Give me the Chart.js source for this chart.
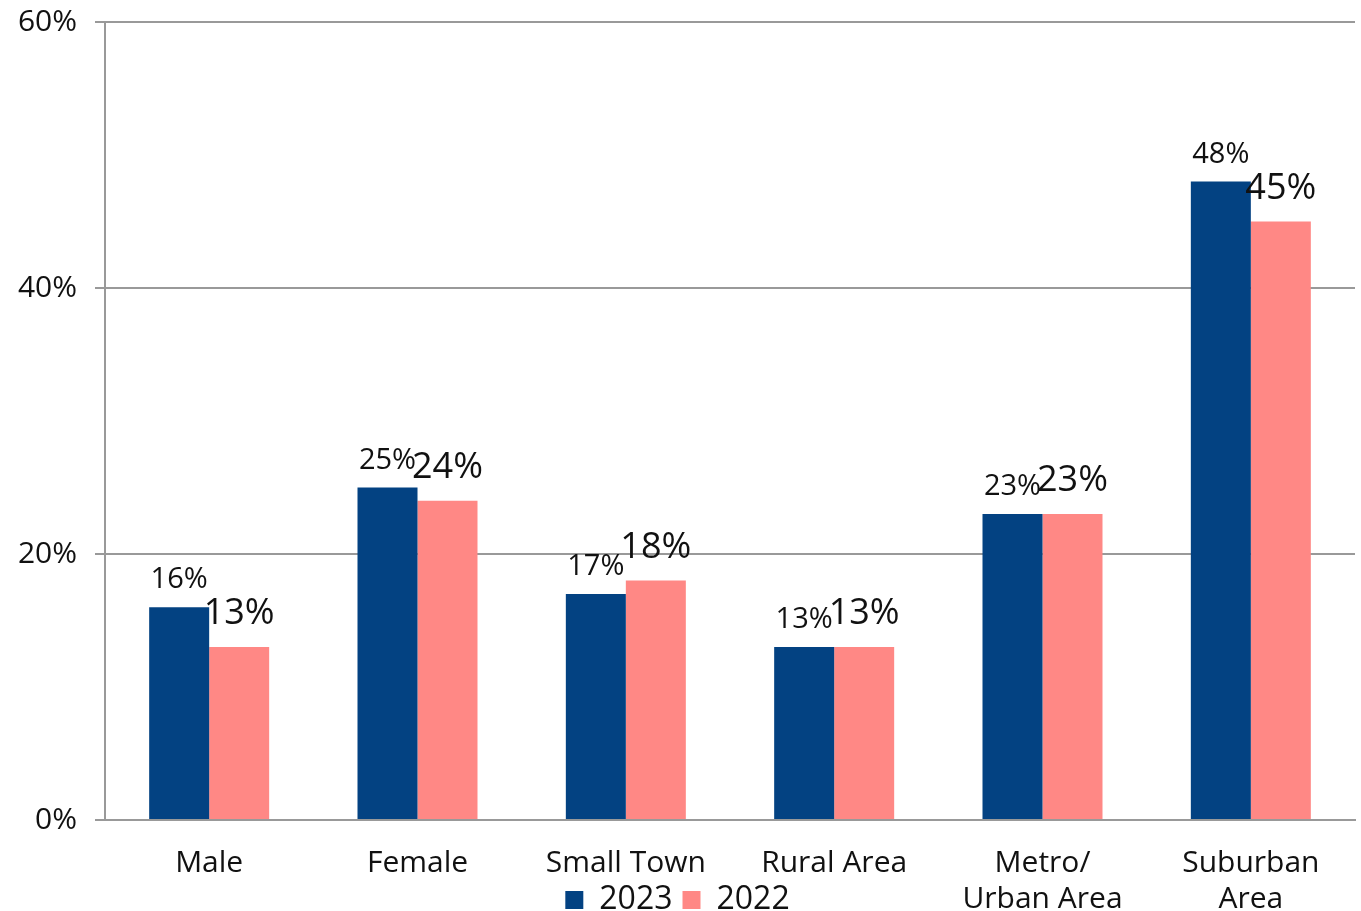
<!DOCTYPE html>
<html lang="en">
<head>
  <meta charset="UTF-8">
  <title>2023 vs 2022</title>
  <script src="https://cdn.jsdelivr.net/npm/chart.js"></script>
  <style>
    html, body { margin: 0; padding: 0; background: #fff; }
    #wrap { width: 1361px; height: 911px; }
  </style>
</head>
<body>
  <div id="wrap"><canvas id="barChart"></canvas></div>

  <script>
    const categories = ['Male', 'Female', 'Small Town', 'Rural Area', ['Metro/', 'Urban Area'], ['Suburban', 'Area']];
    const values2023 = [16, 25, 17, 13, 23, 48];
    const values2022 = [13, 24, 18, 13, 23, 45];
    const yTicks = [0, 20, 40, 60];

    const FONT = "'Open Sans', sans-serif";

    // value labels above each bar, 2022 ones drawn bigger like the original
    const barLabels = {
      id: 'barLabels',
      afterDatasetsDraw(chart) {
        const ctx = chart.ctx;
        ctx.save();
        ctx.fillStyle = '#111';
        ctx.textAlign = 'center';
        ctx.textBaseline = 'alphabetic';
        chart.data.datasets.forEach((ds, i) => {
          const meta = chart.getDatasetMeta(i);
          const size = i === 0 ? 29 : 36;
          const gap = i === 0 ? 19 : 23;
          ctx.font = size + 'px ' + FONT;
          meta.data.forEach((bar, j) => {
            ctx.fillText(ds.data[j] + '%', bar.x, bar.y - gap);
          });
        });
        ctx.restore();
      }
    };

    // the legend sits over the second line of the category labels,
    // so take it out of the layout and drop it in afterwards
    const legendOverlay = {
      id: 'legendOverlay',
      beforeLayout(chart) {
        const lg = chart.legend;
        if (lg && !lg._overlay) {
          const fit = lg.fit;
          lg.fit = function () {
            fit.call(this);
            this._fullHeight = this.height;
            this.height = 0;
          };
          lg._overlay = true;
        }
      },
      afterLayout(chart) {
        const lg = chart.legend;
        if (!lg) return;
        lg.top = 874;
        lg.bottom = lg.top + lg._fullHeight + 10;
      }
    };

    new Chart(document.getElementById('barChart').getContext('2d'), {
      type: 'bar',
      data: {
        labels: categories,
        datasets: [
          {
            label: '2023',
            data: values2023,
            backgroundColor: '#034282',
            categoryPercentage: 0.576,
            barPercentage: 1
          },
          {
            label: '2022',
            data: values2022,
            backgroundColor: '#FF8885',
            categoryPercentage: 0.576,
            barPercentage: 1
          }
        ]
      },
      options: {
        responsive: true,
        maintainAspectRatio: false,
        animation: false,
        layout: { padding: { top: 22, right: 6, left: 0, bottom: 0 } },
        plugins: {
          tooltip: { enabled: false },
          legend: {
            position: 'bottom',
            labels: {
              font: { family: FONT, size: 32 },
              color: '#111',
              boxWidth: 18,
              boxHeight: 18,
              padding: 10
            }
          }
        },
        scales: {
          x: {
            grid: { display: false },
            border: { color: '#999', width: 2 },
            ticks: {
              font: { family: FONT, size: 30, lineHeight: 1.2 },
              color: '#111',
              padding: 17,
              maxRotation: 0,
              autoSkip: false
            },
            afterFit(scale) {
              scale.height = 91;
              scale.paddingLeft = 0;
              scale.paddingRight = 0;
            }
          },
          y: {
            min: 0,
            max: 60,
            afterBuildTicks(scale) { scale.ticks = yTicks.map(v => ({ value: v })); },
            afterFit(scale) {
              scale.width = 105;
              scale.paddingTop = 0;
              scale.paddingBottom = 0;
            },
            grid: { color: '#999', lineWidth: 2, tickLength: 10 },
            border: { color: '#999', width: 2 },
            ticks: {
              font: { family: FONT, size: 30, lineHeight: 1 },
              color: '#111',
              padding: 18,
              callback: v => v + '%'
            }
          }
        }
      },
      plugins: [barLabels, legendOverlay]
    });
  </script>
</body>
</html>
